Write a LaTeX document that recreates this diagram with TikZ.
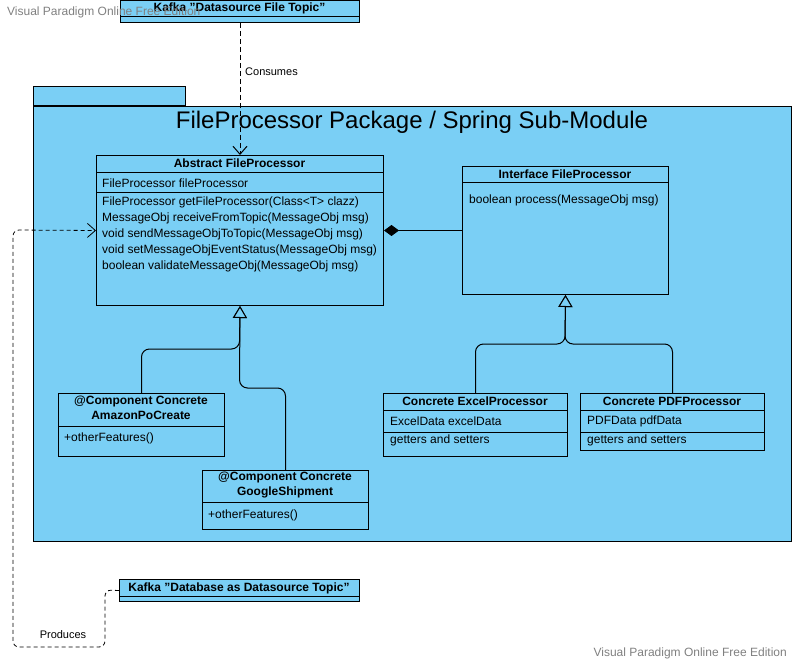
\documentclass[tikz,border=0pt]{standalone}
\usepackage{fontspec}
\setmainfont{Liberation Sans}
\usetikzlibrary{arrows.meta}
\definecolor{pkgblue}{RGB}{122,207,245}
\definecolor{markgray}{RGB}{128,128,128}

\tikzset{
  umlbox/.style={draw=black, fill=pkgblue, anchor=north west, inner sep=0pt, line width=1pt},
  umltitle/.style={font=\fontsize{12}{15}\selectfont\bfseries, inner sep=0pt, align=center},
  umlmember/.style={font=\fontsize{12}{14}\selectfont, anchor=west, inner sep=0pt},
  umlsep/.style={line width=1pt},
  deparrow/.style={dash pattern=on 5pt off 3pt, line width=1pt, rounded corners=6pt, -{Straight Barb[length=8pt,width=14pt]}},
  genarrow/.style={line width=1pt, rounded corners=8pt, -{Triangle[open,length=12pt,width=14pt,fill=pkgblue]}},
  comparrow/.style={line width=1pt, -{Diamond[length=15pt,width=11pt]}},
  conlabel/.style={font=\fontsize{11}{13}\selectfont, inner sep=0pt},
  watermark/.style={font=\fontsize{12}{14}\selectfont, text=markgray, inner sep=0pt}
}

\begin{document}
\begin{tikzpicture}[x=1pt,y=-1pt]
        \useasboundingbox (0,0) rectangle (793,663);
        % package
        \draw [umlsep, fill=pkgblue] (33,87) rectangle (185,106);
        \node [umlbox, minimum width=758, minimum height=435] (pkg) at (33,106) {};
        \node [font=\fontsize{24}{27}\selectfont, inner sep=0pt] (pkgtitle) at (412,122) {FileProcessor Package / Spring Sub-Module};
        % kafka topics
        \node [umlbox, minimum width=239, minimum height=22] (kafkatop) at (120,0) {};
        \draw [umlsep] (120,17) -- (359,17);
        \node [umltitle] (kafkatoptitle) at (239.5,8) {Kafka "Datasource File Topic"};
        \node [umlbox, minimum width=240, minimum height=22] (kafkabot) at (119,579) {};
        \draw [umlsep] (119,596) -- (359,596);
        \node [umltitle] (kafkabottitle) at (239,588) {Kafka "Database as Datasource Topic"};
        % abstract class
        \node [umlbox, minimum width=287, minimum height=150] (abstract) at (96,155) {};
        \node [umltitle] (abstracttitle) at (239.5,163.5) {Abstract FileProcessor};
        \draw [umlsep] (96,173) -- (383,173);
        \draw [umlsep] (96,193) -- (383,193);
        \node [umlmember] (abstractattr) at (102,183.5) {FileProcessor fileProcessor};
        \node [umlmember] (abstractm1) at (102,202) {FileProcessor getFileProcessor(Class<T> clazz)};
        \node [umlmember] (abstractm2) at (102,218) {MessageObj receiveFromTopic(MessageObj msg)};
        \node [umlmember] (abstractm3) at (102,234) {void sendMessageObjToTopic(MessageObj msg)};
        \node [umlmember] (abstractm4) at (102,250) {void setMessageObjEventStatus(MessageObj msg)};
        \node [umlmember] (abstractm5) at (102,266) {boolean validateMessageObj(MessageObj msg)};
        % interface
        \node [umlbox, minimum width=206, minimum height=128] (iface) at (462,166) {};
        \node [umltitle] (ifacetitle) at (565,174.5) {Interface FileProcessor};
        \draw [umlsep] (462,183) -- (668,183);
        \node [umlmember] (ifacem1) at (469,200) {boolean process(MessageObj msg)};
        % components
        \node [umlbox, minimum width=166, minimum height=63] (amazon) at (58,393) {};
        \node [umltitle] (amazontitle) at (141,408) {@Component Concrete\\AmazonPoCreate};
        \draw [umlsep] (58,426) -- (224,426);
        \node [umlmember] (amazonm1) at (64,438) {+otherFeatures()};
        \node [umlbox, minimum width=166, minimum height=59] (google) at (202,470) {};
        \node [umltitle] (googletitle) at (285,485) {@Component Concrete\\GoogleShipment};
        \draw [umlsep] (202,502) -- (368,502);
        \node [umlmember] (googlem1) at (208,515) {+otherFeatures()};
        % processors
        \node [umlbox, minimum width=184, minimum height=63] (excel) at (383,393) {};
        \node [umltitle] (exceltitle) at (475,401) {Concrete ExcelProcessor};
        \draw [umlsep] (383,410) -- (567,410);
        \draw [umlsep] (383,432) -- (567,432);
        \node [umlmember] (excelattr) at (390,421) {ExcelData excelData};
        \node [umlmember] (excelm1) at (390,440) {getters and setters};
        \node [umlbox, minimum width=184, minimum height=57] (pdf) at (580,393) {};
        \node [umltitle] (pdftitle) at (672,401) {Concrete PDFProcessor};
        \draw [umlsep] (580,410) -- (764,410);
        \draw [umlsep] (580,432) -- (764,432);
        \node [umlmember] (pdfattr) at (587,421) {PDFData pdfData};
        \node [umlmember] (pdfm1) at (587,440) {getters and setters};
        % connectors
        \draw [deparrow] (kafkatop.south) -- (abstract.north);
        \node [conlabel, anchor=west] (consumes) at (245,72) {Consumes};
        \draw [comparrow] (iface.west) -- (abstract.east |- iface.west);
        \draw [genarrow] (amazon.north) |- (239.5,349) -- (abstract.south);
        \draw [genarrow] (google.north) |- (239.5,388) -- (abstract.south);
        \draw [genarrow] (excel.north) |- (565,344) -- (iface.south);
        \draw [genarrow] (pdf.north) |- (565,344) -- (iface.south);
        \draw [deparrow, line width=0.8pt, dash pattern=on 4pt off 3pt] (kafkabot.west) -- (105,590) -- (105,647) -- (13,647) -- (13,230) -- (abstract.west);
        \node [conlabel] (produces) at (63,635) {Produces};
        % watermarks
        \node [watermark, anchor=west] (marktop) at (7,12) {Visual Paradigm Online Free Edition};
        \node [watermark, anchor=east] (markbot) at (787,653) {Visual Paradigm Online Free Edition};
\end{tikzpicture}
\end{document}
